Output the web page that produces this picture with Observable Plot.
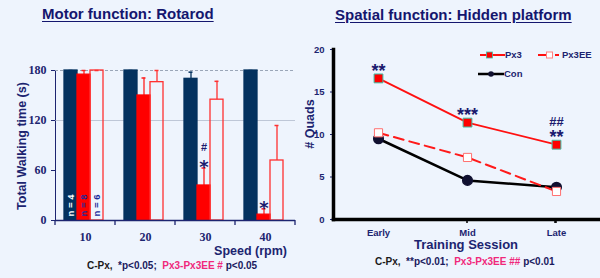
<!DOCTYPE html>
<html><head><meta charset="utf-8">
<script src="https://cdn.jsdelivr.net/npm/d3@7"></script>
<script src="https://cdn.jsdelivr.net/npm/@observablehq/plot@0.6"></script>
<style>
html,body{margin:0;padding:0;background:#eef4fd;}
#wrap{position:relative;width:600px;height:278px;overflow:hidden;background:#eef4fd;font-family:"Liberation Sans",Arial,sans-serif;}
.abs{position:absolute;white-space:nowrap;font-weight:bold;line-height:1;}
.title{font-size:15px;color:#14166e;text-decoration:underline;text-underline-offset:2px;}
.axl{color:#1c2470;}
.rot{transform:translate(-50%,-50%) rotate(-90deg);}
.foot{font-size:10px;color:#1a1a5e;}
.blk{color:#1a1a1a}.pink{color:#f0287a}
.plotbox{position:absolute;top:0;}
.leg{position:absolute;display:flex;align-items:center;font-size:9.5px;font-weight:bold;color:#1c2470;}
</style></head><body><div id="wrap">
<div class="abs title" style="left:42px;top:6px;">Motor function: Rotarod</div>
<div class="abs title" style="left:335px;top:7px;">Spatial function: Hidden platform</div>
<div class="abs axl rot" style="left:22px;top:146px;font-size:12.5px;">Total Walking time (s)</div>
<div class="abs axl" style="right:313px;top:245px;font-size:12.5px;">Speed (rpm)</div>
<div class="abs axl rot" style="left:310px;top:124px;font-size:12.5px;"># Quads</div>
<div class="abs axl" style="left:466px;top:238px;font-size:13px;transform:translateX(-50%);">Training Session</div>
<div class="abs foot" style="left:87px;top:261px;"><span class="blk">C-Px,</span>&nbsp; *p&lt;0.05;&nbsp; <span class="pink">Px3-Px3EE #</span> p&lt;0.05</div>
<div class="abs foot" style="left:375px;top:257px;"><span class="blk">C-Px,</span>&nbsp; **p&lt;0.01;&nbsp; <span class="pink">Px3-Px3EE ##</span> p&lt;0.01</div>
<div class="leg" style="left:478px;top:49px;"><svg width="27" height="10"><line x1="2" x2="27" y1="5" y2="5" stroke="#ff1010" stroke-width="2"/><rect x="8.5" y="2" width="6" height="6" fill="#ff0000" stroke="#40c0a8" stroke-width="0.8"/></svg>Px3</div>
<div class="leg" style="left:537px;top:49px;"><svg width="25" height="10"><line x1="1" x2="9" y1="5" y2="5" stroke="#ff1010" stroke-width="2"/><rect x="9.5" y="2" width="6" height="6" fill="#ffffff" stroke="#ff8080" stroke-width="1"/><line x1="18" x2="22" y1="5" y2="5" stroke="#ff1010" stroke-width="2"/></svg>Px3EE</div>
<div class="leg" style="left:477px;top:68px;"><svg width="27" height="10"><line x1="1" x2="27" y1="5" y2="5" stroke="#000" stroke-width="2.5"/><circle cx="14" cy="5" r="2.8" fill="#101030"/></svg>Con</div>
<div id="left" class="plotbox" style="left:0;"></div>
<div id="right" class="plotbox" style="left:300px;"></div>
</div>
<script>
// ---------- Rotarod data ----------
const speeds = [10, 20, 30, 40];
const groups = ["Con", "Px3", "Px3EE"];
const rotarodCon = [180, 180, 170, 180];
const rotarodConErr = [180, 180, 178, 180];
const rotarodPx3 = [175, 150, 42, 7];
const rotarodPx3Err = [180, 171, 63, 14];
const rotarodPx3EE = [180, 166, 145, 72];
const rotarodPx3EEErr = [180, 180, 167, 114];
const nLabels = ["n = 4", "n = 8", "n = 6"];
const rotarodYTicks = [0, 60, 120, 180];
const rotarodStars = [{speed: 30, text: "*"}, {speed: 40, text: "*"}];
const rotarodHash = [{speed: 30, text: "#"}];

// ---------- Hidden platform data ----------
const sessions = ["Early", "Mid", "Late"];
const quadsPx3 = [16.6, 11.4, 8.8];
const quadsPx3EE = [10.2, 7.3, 3.3];
const quadsCon = [9.5, 4.6, 3.8];
const quadsYTicks = [0, 5, 10, 15, 20];
const quadsStars = [{session: "Early", text: "**"}, {session: "Mid", text: "***"}, {session: "Late", text: "**"}];
const quadsHash = [{session: "Late", text: "##"}];

const NAVY = "#1c2470";
const BAR_NAVY = "#04325f";
const RED = "#ff0000";

// build rotarod table
const series = {Con: [rotarodCon, rotarodConErr], Px3: [rotarodPx3, rotarodPx3Err], Px3EE: [rotarodPx3EE, rotarodPx3EEErr]};
const rotarod = [];
speeds.forEach((s, i) => groups.forEach(g => rotarod.push({speed: s, group: g, v: series[g][0][i], e: series[g][1][i]})));
const fillOf = {Con: BAR_NAVY, Px3: RED, Px3EE: "none"};
const strokeOf = {Con: BAR_NAVY, Px3: RED, Px3EE: "#ff3030"};
const errOf = {Con: BAR_NAVY, Px3: "#ff2020", Px3EE: "#ff3030"};
const nData = groups.map((g, i) => ({speed: speeds[0], group: g, text: nLabels[i]}));
const nColor = {Con: "#ffffff", Px3: "#1a2a9a", Px3EE: "#1a2a9a"};
const px3Err = d => rotarodPx3Err[speeds.indexOf(d.speed)];

const left = Plot.plot({
  width: 300, height: 250,
  marginLeft: 53, marginRight: 4, marginTop: 70, marginBottom: 30,
  style: {background: "transparent", color: NAVY, fontFamily: "'Liberation Serif', serif", fontWeight: "bold", fontSize: "12px"},
  fx: {domain: speeds, paddingInner: 0, paddingOuter: 0, axis: "bottom", tickSize: 0, tickPadding: 12, label: null},
  x: {domain: groups, paddingInner: 0, paddingOuter: 0.72, align: 0.45, axis: null},
  y: {domain: [0, 180], ticks: rotarodYTicks, tickSize: 4, tickPadding: 5, label: null, line: true},
  marks: [
    Plot.ruleY([120], {stroke: "#aab4c6", strokeOpacity: 0.7}),
    Plot.ruleY([180], {stroke: "#9aa6b8", strokeDasharray: "3,2"}),
    Plot.ruleX(rotarod, {fx: "speed", x: "group", y1: "v", y2: "e", stroke: d => errOf[d.group], strokeWidth: 1.3}),
    Plot.tickY(rotarod, {fx: "speed", x: "group", y: "e", stroke: d => errOf[d.group], strokeWidth: 1.5, insetLeft: 4.5, insetRight: 4.5}),
    Plot.barY(rotarod, {fx: "speed", x: "group", y: "v", fill: d => fillOf[d.group], stroke: d => strokeOf[d.group], strokeWidth: 1.3}),
    Plot.text(nData, {fx: "speed", x: "group", y: 0, text: "text", rotate: -90, textAnchor: "start", lineAnchor: "middle", dy: -4, fill: d => nColor[d.group], fontFamily: "'Liberation Sans', Arial, sans-serif", fontWeight: "bold", fontSize: 9.5}),
    Plot.text(rotarodStars, {fx: "speed", x: () => "Px3", y: px3Err, text: "text", lineAnchor: "middle", dy: -1, fill: "#1a1a6e", fontFamily: "'DejaVu Sans', sans-serif", fontWeight: "bold", fontSize: 18}),
    Plot.text(rotarodHash, {fx: "speed", x: () => "Px3", y: px3Err, text: "text", lineAnchor: "middle", dy: -21, fill: "#1a1a6e", fontFamily: "'Liberation Sans', Arial, sans-serif", fontWeight: "bold", fontSize: 11}),
    Plot.ruleY([0], {stroke: NAVY, strokeWidth: 1.5})
  ]
});
document.getElementById("left").appendChild(left);
// boundary ticks on the speed axis, from the fx band scale
{
  const fx = left.scale("fx");
  const y0 = left.scale("y").apply(0);
  const bounds = speeds.map(s => fx.apply(s)).concat([fx.apply(speeds[speeds.length - 1]) + fx.bandwidth]);
  d3.select(left).append("g").selectAll("line").data(bounds).join("line")
    .attr("x1", d => d).attr("x2", d => d).attr("y1", y0).attr("y2", y0 + 5)
    .attr("stroke", NAVY).attr("stroke-width", 1.3);
}

// ---------- right chart ----------
const mk = arr => sessions.map((s, i) => ({session: s, v: arr[i]}));
const px3 = mk(quadsPx3), px3ee = mk(quadsPx3EE), con = mk(quadsCon);
const sigY = d => quadsPx3[sessions.indexOf(d.session)];

const right = Plot.plot({
  width: 300, height: 250,
  marginLeft: 33, marginRight: 0, marginTop: 49, marginBottom: 31,
  style: {background: "transparent", color: NAVY, fontFamily: "'Liberation Sans', Arial, sans-serif", fontWeight: "bold", fontSize: "9.5px"},
  x: {domain: sessions, paddingInner: 0, paddingOuter: 0, tickSize: 0, tickPadding: 10, label: null},
  y: {domain: [0, 20], ticks: quadsYTicks, tickSize: 3, tickPadding: 6, label: null},
  marks: [
    Plot.line(con, {x: "session", y: "v", stroke: "#000", strokeWidth: 2.5}),
    Plot.line(px3ee, {x: "session", y: "v", stroke: "#ff1a1a", strokeWidth: 2, strokeDasharray: "10,6"}),
    Plot.line(px3, {x: "session", y: "v", stroke: "#ff1010", strokeWidth: 1.8}),
    Plot.dot(con, {x: "session", y: "v", r: 4.8, fill: "#101030", stroke: "#101030"}),
    Plot.dot(px3ee, {x: "session", y: "v", symbol: "square", r: 4.6, fill: "#ffffff", stroke: "#ff7070", strokeWidth: 1}),
    Plot.dot(px3, {x: "session", y: "v", symbol: "square", r: 5, fill: "#ff0000", stroke: "#40c0a8", strokeWidth: 1}),
    Plot.text(quadsStars, {x: "session", y: sigY, text: "text", lineAnchor: "top", dy: -14, fill: "#1a1a6e", fontSize: 18, fontWeight: "bold"}),
    Plot.text(quadsHash, {x: "session", y: sigY, text: "text", lineAnchor: "middle", dy: -23, fill: "#1a1a6e", fontSize: 13, fontWeight: "bold"}),
    Plot.frame({anchor: "left", stroke: "#000", strokeWidth: 3.5}),
    Plot.frame({anchor: "bottom", stroke: "#000", strokeWidth: 3.5})
  ]
});
document.getElementById("right").appendChild(right);
{
  const xs = right.scale("x");
  const y0 = right.scale("y").apply(0);
  const bounds = sessions.slice(1).map(s => xs.apply(s)).concat([xs.apply(sessions[sessions.length - 1]) + xs.bandwidth - 1]);
  d3.select(right).append("g").selectAll("line").data(bounds).join("line")
    .attr("x1", d => d).attr("x2", d => d).attr("y1", y0).attr("y2", y0 + 4)
    .attr("stroke", "#000").attr("stroke-width", 1.5);
}
</script>
</body></html>
